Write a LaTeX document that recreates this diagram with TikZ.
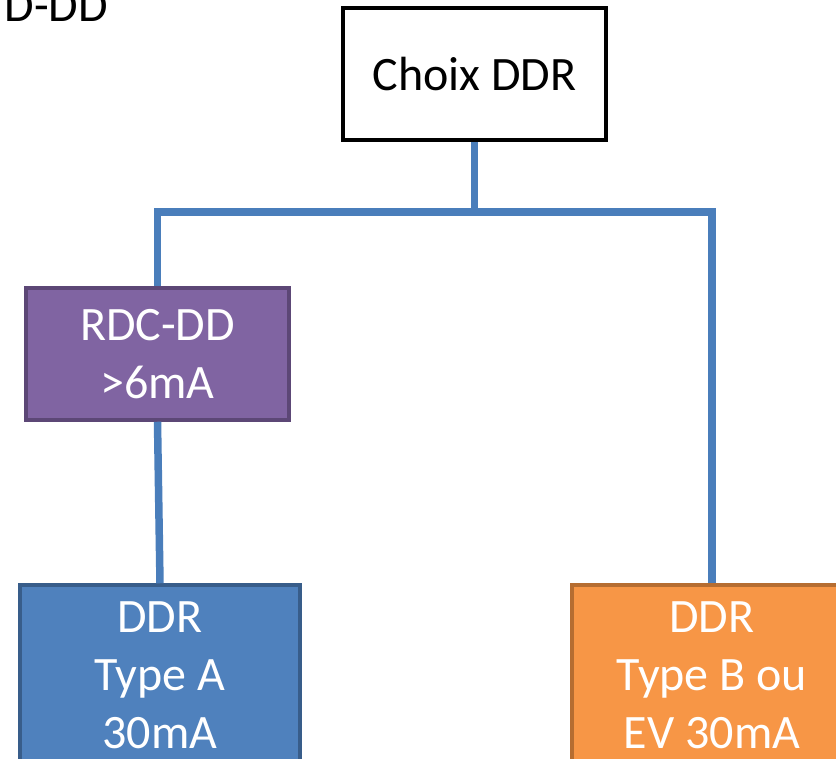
\documentclass[tikz,border=0pt]{standalone}
\usepackage{fontspec}
\setmainfont{Carlito}
\usepackage{xcolor}
\usetikzlibrary{positioning, calc}

\definecolor{linkblue}{HTML}{4A7EBB}
\definecolor{rdcfill}{HTML}{8064A2}
\definecolor{rdcdraw}{HTML}{5C4776}
\definecolor{afill}{HTML}{4F81BD}
\definecolor{adraw}{HTML}{385D8A}
\definecolor{bfill}{HTML}{F79646}
\definecolor{bdraw}{HTML}{B66D31}

\begin{document}
\begin{tikzpicture}[
    x=1pt, y=-1pt,
    box/.style={rectangle, line width=3.5pt, minimum width=263pt, minimum height=132pt, align=center, font=\fontsize{48}{58}\selectfont, inner sep=0pt},
    leaf/.style={box, minimum width=280pt, minimum height=180pt},
    conn/.style={line width=7.5pt, draw=linkblue}
]
    \useasboundingbox (0,0) rectangle (836,759);
    \clip (0,0) rectangle (836,759);

    % Nodes
    \node[font=\fontsize{48}{58}\selectfont, anchor=base east, inner sep=0pt] (title) at (108,22) {D-DD};
    \node[box, draw=black, line width=4.5pt, fill=white] (choix) at (474.5,74) {Choix DDR};
    \node[box, draw=rdcdraw, fill=rdcfill, text=white] (rdc) at (157.5,354) {RDC-DD \\ >6mA};
    \node[leaf, draw=adraw, fill=afill, text=white] (typea) at (160,675) {DDR \\ Type A \\ 30mA};
    \node[leaf, draw=bdraw, fill=bfill, text=white] (typeb) at (712,675) {DDR \\ Type B ou \\ EV 30mA};
    \coordinate (bus) at (474.5,212);

    % Connections
    \draw[conn] (choix.south) -- (bus);
    \draw[conn] (rdc.north) |- (bus);
    \draw[conn] (typeb.north) |- (bus);
    \draw[conn] (rdc.south) -- (typea.north);
\end{tikzpicture}
\end{document}
